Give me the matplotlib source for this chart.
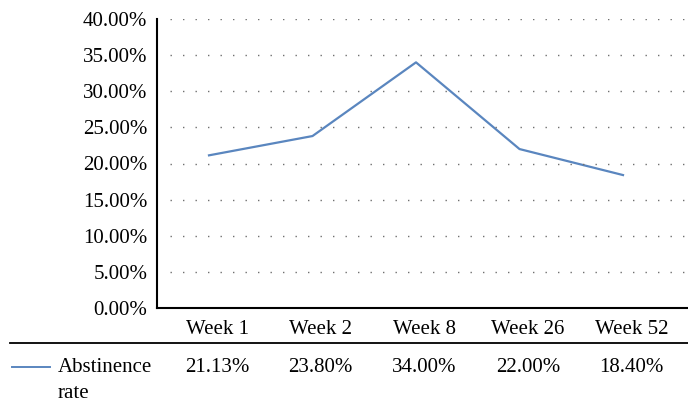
import matplotlib.pyplot as plt
import matplotlib.transforms as mtransforms
from matplotlib.lines import Line2D
import numpy as np

# data
weeks = ["Week 1", "Week 2", "Week 8", "Week 26", "Week 52"]
rates = [21.13, 23.80, 34.00, 22.00, 18.40]
series_name = "Abstinence rate"
yticks = [0, 5, 10, 15, 20, 25, 30, 35, 40]

blue = "#5a86bf"
fs = 15
plt.rcParams['font.family'] = ['Liberation Serif', 'DejaVu Serif']

fig = plt.figure(figsize=(6.88, 4.13), dpi=100)
W, H = 688, 413
# axes box in pixels: left 157, right 688, top 19, bottom 308
ax = fig.add_axes([157 / W, 1 - 308 / H, (688 - 157) / W, (308 - 19) / H])

x = np.arange(len(weeks))
ax.plot(x, rates, color=blue, lw=1.6)

# category spacing ~103.5 px, first point at x=209
step = 103.5
ax.set_xlim((157 - 209) / step, (688 - 209) / step)
ax.set_ylim(0, 40)
ax.set_yticks(yticks)
ax.set_yticklabels([f"{v:.2f}%" for v in yticks], fontsize=fs)
ax.set_xticks([])
ax.tick_params(axis='y', length=0, pad=7)

for y in yticks[1:]:
    ax.axhline(y, xmin=13 / 531, color="#707070", lw=1.0, ls=(0, (1, 8)))

for s in ["top", "right"]:
    ax.spines[s].set_visible(False)
ax.spines["left"].set_linewidth(1.5)
ax.spines["bottom"].set_linewidth(1.5)

# data table below the plot
trans = mtransforms.blended_transform_factory(ax.transData, fig.transFigure)
off = 0.08
for i, (w, r) in enumerate(zip(weeks, rates)):
    ax.text(i + off, 1 - 330 / H, w, transform=trans, ha="center", va="center",
            fontsize=fs, clip_on=False)
    ax.text(i + off, 1 - 367 / H, f"{r:.2f}%", transform=trans, ha="center",
            va="center", fontsize=fs, clip_on=False)

fig.add_artist(Line2D([10 / W, 1], [1 - 343 / H] * 2, color="black", lw=1.3,
                      transform=fig.transFigure))
fig.add_artist(Line2D([12 / W, 50 / W], [1 - 367 / H] * 2, color=blue, lw=1.4,
                      transform=fig.transFigure))
name1, name2 = series_name.split(" ")
fig.text(58 / W, 1 - 367 / H, name1, ha="left", va="center", fontsize=fs)
fig.text(58 / W, 1 - 393 / H, name2, ha="left", va="center", fontsize=fs)

fig.savefig("out.png", dpi=100)
